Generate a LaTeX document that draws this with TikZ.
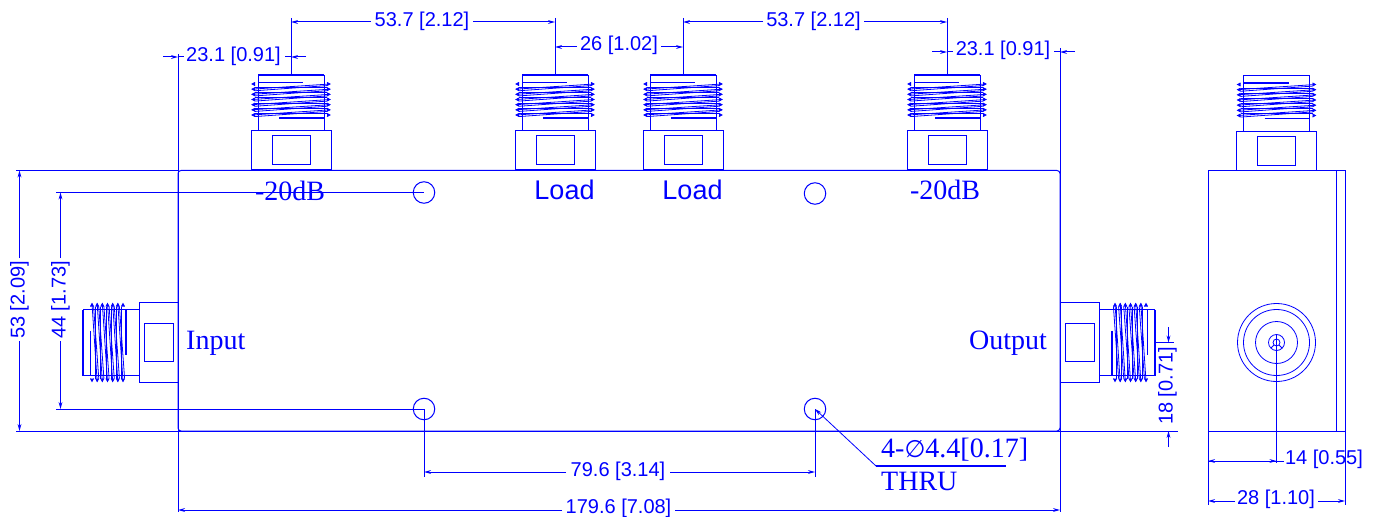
\documentclass[tikz,border=0pt]{standalone}
\usepackage{fontspec}
\setmainfont{Liberation Serif}
\setsansfont{Liberation Sans}
\newfontfamily\symfont{DejaVu Sans}
\usetikzlibrary{arrows.meta}
\definecolor{cadblue}{RGB}{0,0,255}
\tikzset{
  cad/.style={draw=cadblue,line width=1bp},
  thin cad/.style={draw=cadblue,line width=0.8bp},
  dimline/.style={cad,-{Stealth[length=7bp,width=3.8bp]}},
  dimtext/.style={text=cadblue,inner sep=0pt,font=\sffamily\fontsize{20bp}{22bp}\selectfont},
  loadtext/.style={text=cadblue,inner sep=0pt,font=\sffamily\fontsize{27bp}{30bp}\selectfont},
  serif text/.style={text=cadblue,inner sep=0pt,font=\rmfamily\fontsize{28bp}{30bp}\selectfont},
  hole/.style={cad,fill=none}
}
% local frame: first coordinate across the connector, second outward from the housing
\newcommand{\rfconn}[2]{%
  \begin{scope}[shift={(#1)},x={(1bp,0)},y={(0,1bp)},rotate=#2]
    \draw[cad] (-40,0) rectangle (40,39);
    \draw[cad] (-19,5) rectangle (19,34);
    \draw[cad] (-33,39) -- (-33,95) (33,39) -- (33,95);
    \draw[cad,line width=1.5bp] (-33,95) -- (33,95);
    \foreach \u in {55,60.17,65.33,70.5,75.67,80.83,86} {
      \draw[thin cad,fill=cadblue] (-36,\u-1.6) -- (-39,\u) -- (-36,\u+1.6);
      \draw[thin cad,fill=cadblue] (36,\u-1.6) -- (39,\u) -- (36,\u+1.6);
    }
    \foreach \u in {55,60.17,65.33,70.5,75.67,80.83} {
      \draw[thin cad] (-39,\u) -- (39,\u+5.17);
      \draw[thin cad] (-36,\u+1.6) -- (36,\u+1.6);
      \draw[thin cad] (-36,\u-1.6) -- (36,\u+3.57);
    }
    \draw[cad,line width=1.5bp] (-33,87.5) -- (12,87.5);
    \draw[cad,line width=1.5bp] (-12,52) -- (33,52);
  \end{scope}}
\begin{document}
\begin{tikzpicture}[x=1bp,y=-1bp]
\useasboundingbox (0,0) rectangle (1378,517);
% housing, front view
\draw[cad,rounded corners=3bp] (178,170.5) rectangle (1060,431);
\rfconn{291,170}{0}
\rfconn{555,170}{0}
\rfconn{683,170}{0}
\rfconn{947,170}{0}
\rfconn{178,342.5}{90}
\rfconn{1060,342.5}{-90}
% mounting holes
\node[hole,circle,minimum size=21.5bp,inner sep=0pt] (h1) at (424,192.5) {};
\node[hole,circle,minimum size=21.5bp,inner sep=0pt] (h2) at (815,193.5) {};
\node[hole,circle,minimum size=21.5bp,inner sep=0pt] (h3) at (424,409) {};
\node[hole,circle,minimum size=21.5bp,inner sep=0pt] (h4) at (815,409) {};
% side view
\draw[cad] (1208,170.5) rectangle (1345,431);
\draw[cad] (1336,170.5) -- (1336,431);
\rfconn{1276.5,170.5}{0}
\foreach \r in {39,33,21,8,3.5} \draw[thin cad] (1276.5,342.5) circle[radius=\r];
\draw[thin cad] (1276.5,334) -- (1276.5,463);
\draw[thin cad] (1274,345) -- (1271,348) (1279,345) -- (1282,348);
% extension lines
\draw[cad] (178,54) -- (178,512);
\draw[cad] (1060,48) -- (1060,512);
\draw[cad] (16,170.5) -- (178,170.5);
\draw[cad] (16,431) -- (1178,431);
\draw[cad] (56,192.5) -- (424,192.5);
\draw[cad] (56,409) -- (424,409);
\draw[cad] (424,409) -- (424,477);
\draw[cad] (815,409) -- (815,477);
\draw[cad] (291,18) -- (291,75);
\draw[cad] (555,18) -- (555,75);
\draw[cad] (683,18) -- (683,75);
\draw[cad] (947,18) -- (947,75);
\draw[cad] (1155,342.5) -- (1174,342.5);
\draw[cad] (1208,431) -- (1208,505);
\draw[cad] (1345,431) -- (1345,505);
% dimension 53.7 (left)
\node[dimtext] (d1) at (422,21.5) {53.7 [2.12]};
\draw[dimline] (371,22) -- (291,22);
\draw[dimline] (473,22) -- (555,22);
% dimension 53.7 (right)
\node[dimtext] (d2) at (813.5,21.5) {53.7 [2.12]};
\draw[dimline] (763,22) -- (683,22);
\draw[dimline] (864,22) -- (947,22);
% dimension 26
\node[dimtext] (d3) at (619,45.5) {26 [1.02]};
\draw[dimline] (577,47) -- (555,47);
\draw[dimline] (661,47) -- (683,47);
% dimension 23.1 left
\node[dimtext] (d4) at (233.5,56.5) {23.1 [0.91]};
\draw[dimline] (163,57) -- (178,57);
\draw[cad] (178,57) -- (184,57);
\draw[dimline] (306,57) -- (291,57);
\draw[cad] (291,57) -- (285,57);
% dimension 23.1 right
\node[dimtext] (d5) at (1003,50.5) {23.1 [0.91]};
\draw[dimline] (932,52) -- (947,52);
\draw[cad] (947,52) -- (953,52);
\draw[dimline] (1075,52) -- (1060,52);
\draw[cad] (1060,52) -- (1054,52);
% dimension 53 and 44
\node[dimtext,rotate=90] (d6) at (19.5,300) {53 [2.09]};
\draw[dimline] (19.5,258) -- (19.5,170.5);
\draw[dimline] (19.5,341) -- (19.5,431);
\node[dimtext,rotate=90] (d7) at (60.5,300) {44 [1.73]};
\draw[dimline] (60.5,258) -- (60.5,192.5);
\draw[dimline] (60.5,341) -- (60.5,409);
% dimension 79.6 and 179.6
\node[dimtext] (d8) at (618,471.5) {79.6 [3.14]};
\draw[dimline] (566,472) -- (424,472);
\draw[dimline] (670,472) -- (815,472);
\node[dimtext] (d9) at (618.5,508.5) {179.6 [7.08]};
\draw[dimline] (562,510) -- (178,510);
\draw[dimline] (675,510) -- (1060,510);
% dimension 18
\node[dimtext,rotate=90] (d10) at (1167.5,386) {18 [0.71]};
\draw[dimline] (1168.5,327) -- (1168.5,342.5);
\draw[dimline] (1168.5,447) -- (1168.5,431);
% dimension 14 and 28
\node[dimtext] (d11) at (1324,459.5) {14 [0.55]};
\draw[dimline] (1284,461) -- (1208,461);
\draw[dimline] (1208,461) -- (1276.5,461);
\node[dimtext] (d12) at (1276,499.5) {28 [1.10]};
\draw[dimline] (1235,501) -- (1208,501);
\draw[dimline] (1318,501) -- (1345,501);
% hole callout
\coordinate (cal) at (876,466);
\draw[dimline,line width=0.8bp] (cal) -- (815,409);
\draw[cad,line width=1.3bp] (cal) -- (1006,466);
\node[serif text,anchor=base west] (c1) at (881,457) {4-{\symfont\fontsize{24bp}{26bp}\selectfont ∅}4.4[0.17]};
\node[serif text,anchor=base west] (c2) at (881,490) {THRU};
% port labels
\node[serif text,anchor=base] (l1) at (290,201) {-20dB};
\node[loadtext,anchor=base] (l2) at (564.5,200) {Load};
\node[loadtext,anchor=base] (l3) at (692.5,200) {Load};
\node[serif text,anchor=base] (l4) at (945,200) {-20dB};
\node[serif text,anchor=base west] (l5) at (186,349) {Input};
\node[serif text,anchor=base west] (l6) at (969,349) {Output};
\end{tikzpicture}
\end{document}
